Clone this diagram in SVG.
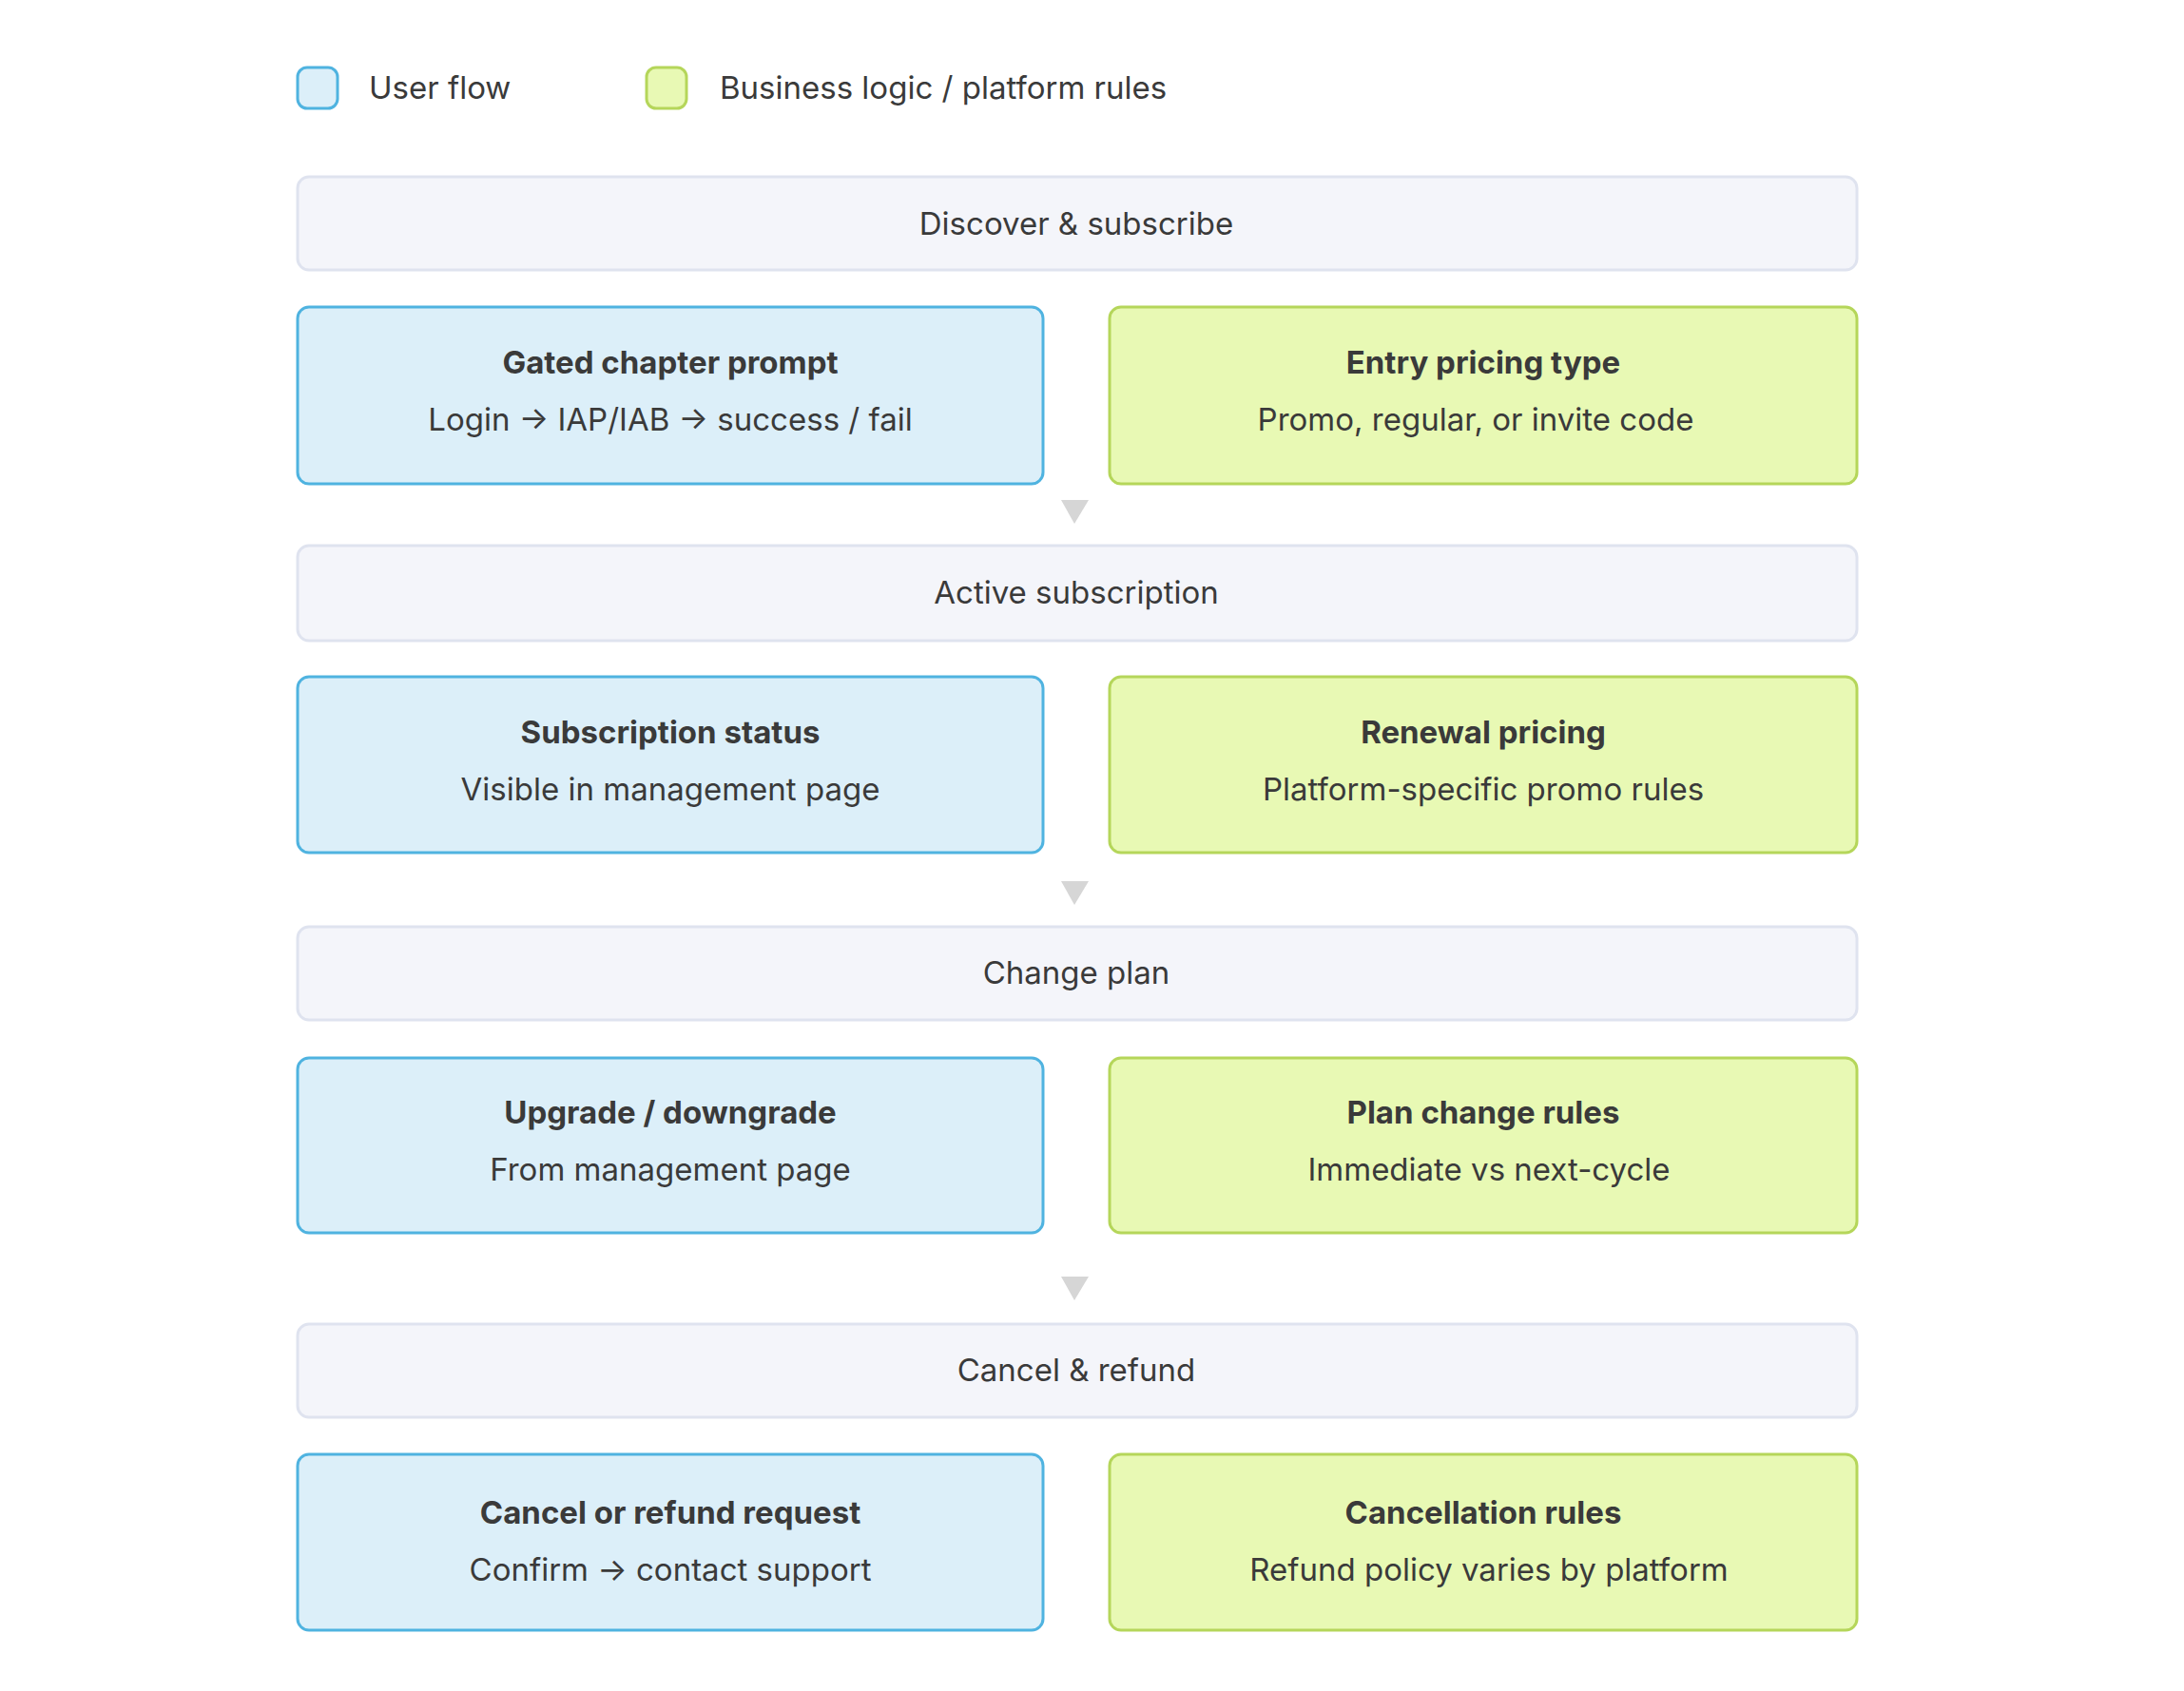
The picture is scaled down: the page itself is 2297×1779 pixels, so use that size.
<svg xmlns="http://www.w3.org/2000/svg" width="2297" height="1779" viewBox="0 0 2297 1779">
<style>
text{font-family:Inter,"Liberation Sans",sans-serif;fill:#3a3a3a;font-size:33px;text-anchor:middle;dominant-baseline:central}
.t{font-weight:700}
.l{text-anchor:start}
.band{fill:#f4f5fa;stroke:#dfe3ef;stroke-width:3}
.blue{fill:#dceff9;stroke:#4fb3e0;stroke-width:3}
.green{fill:#e8f9b4;stroke:#b5d65a;stroke-width:3}
.arr{fill:#d6d6d6}
</style>
<rect width="2297" height="1779" fill="#fff"/>
<g id="legend">
<rect class="blue" x="313" y="71" width="42" height="43" rx="10"/>
<text class="l" x="388" y="92">User flow</text>
<rect class="green" x="680" y="71" width="42" height="43" rx="10"/>
<text class="l" x="757" y="92">Business logic / platform rules</text>
</g>
<g id="band1"><rect class="band" x="313" y="186" width="1640" height="98" rx="12"/><text x="1132" y="235">Discover &amp; subscribe</text></g>
<g id="gated"><rect class="blue" x="313" y="323" width="784" height="186" rx="12"/><text class="t" x="705" y="381">Gated chapter prompt</text><text x="705" y="441">Login → IAP/IAB → success / fail</text></g>
<g id="entry"><rect class="green" x="1167" y="323" width="786" height="186" rx="12"/><text class="t" x="1560" y="381">Entry pricing type</text><text x="1552" y="441">Promo, regular, or invite code</text></g>
<g id="band2"><rect class="band" x="313" y="574" width="1640" height="100" rx="12"/><text x="1132" y="623">Active subscription</text></g>
<g id="status"><rect class="blue" x="313" y="712" width="784" height="185" rx="12"/><text class="t" x="705" y="770">Subscription status</text><text x="705" y="830">Visible in management page</text></g>
<g id="renewal"><rect class="green" x="1167" y="712" width="786" height="185" rx="12"/><text class="t" x="1560" y="770">Renewal pricing</text><text x="1560" y="830">Platform-specific promo rules</text></g>
<g id="band3"><rect class="band" x="313" y="975" width="1640" height="98" rx="12"/><text x="1132" y="1023">Change plan</text></g>
<g id="upgrade"><rect class="blue" x="313" y="1113" width="784" height="184" rx="12"/><text class="t" x="705" y="1170">Upgrade / downgrade</text><text x="705" y="1230">From management page</text></g>
<g id="planrules"><rect class="green" x="1167" y="1113" width="786" height="184" rx="12"/><text class="t" x="1560" y="1170">Plan change rules</text><text x="1566" y="1230">Immediate vs next-cycle</text></g>
<g id="band4"><rect class="band" x="313" y="1393" width="1640" height="98" rx="12"/><text x="1132" y="1441">Cancel &amp; refund</text></g>
<g id="cancel"><rect class="blue" x="313" y="1530" width="784" height="185" rx="12"/><text class="t" x="705" y="1591">Cancel or refund request</text><text x="705" y="1651">Confirm → contact support</text></g>
<g id="cancelrules"><rect class="green" x="1167" y="1530" width="786" height="185" rx="12"/><text class="t" x="1560" y="1591">Cancellation rules</text><text x="1566" y="1651">Refund policy varies by platform</text></g>
<g id="connectors">
<polygon class="arr" points="1116,526 1145,526 1130,551"/>
<polygon class="arr" points="1116,927 1145,927 1130,952"/>
<polygon class="arr" points="1116,1343 1145,1343 1130,1368"/>
</g>
</svg>
